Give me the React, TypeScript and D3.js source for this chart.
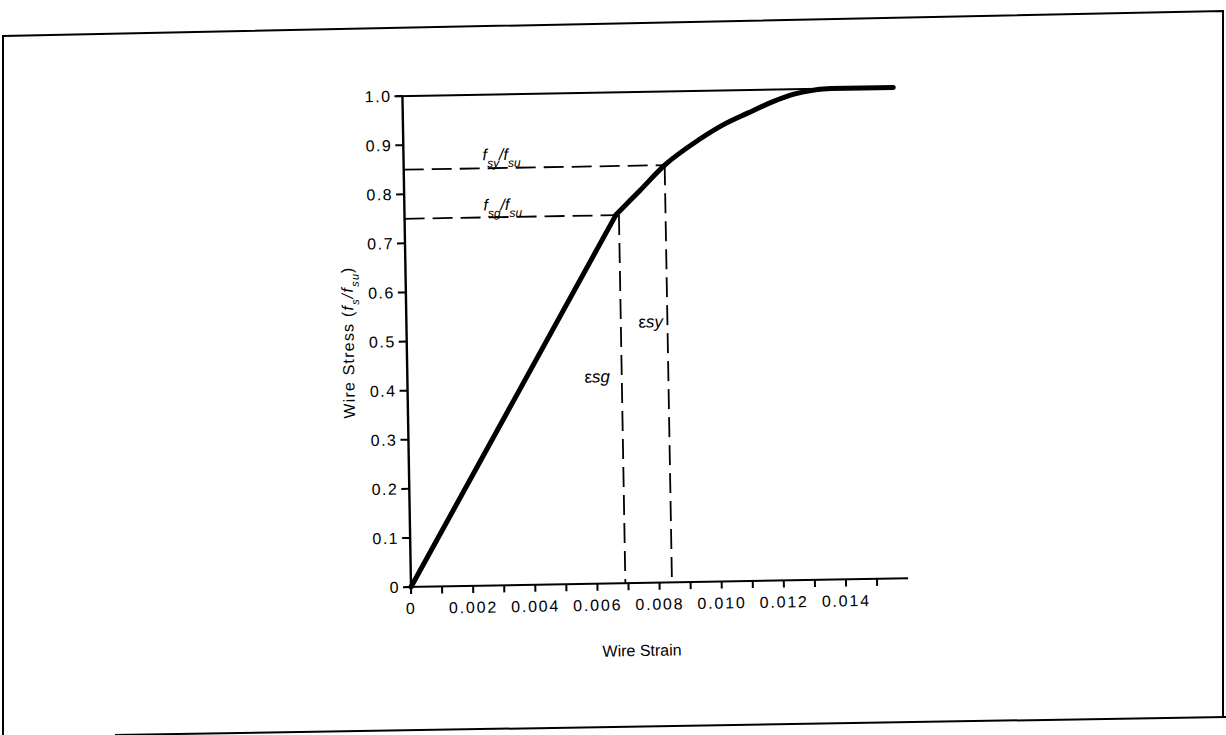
import React from "react";
import * as d3 from "d3";

// elastic (linear) branch
const strainLinear = [0, 0.0068];
const stressLinear = [0, 0.75];
// post-elastic branch
const strainCurve = [0.0068, 0.0076, 0.0084, 0.0095, 0.0103, 0.0111, 0.0119, 0.0126, 0.0132, 0.0138, 0.0158];
const stressCurve = [0.75, 0.8, 0.85, 0.9, 0.93, 0.953, 0.975, 0.99, 0.997, 1.0, 1.0];
const yTicks = [0, 0.1, 0.2, 0.3, 0.4, 0.5, 0.6, 0.7, 0.8, 0.9, 1.0];
const xTickLabels = [0, 0.002, 0.004, 0.006, 0.008, 0.01, 0.012, 0.014];
const xMinorTicks = d3.range(0, 16).map((i) => i * 0.001);
const fsy = { stress: 0.85, strain: 0.0084 };
const fsg = { stress: 0.75, strain: 0.0069 };

const W = 1226;
const H = 735;
const SKEW = -1.0; // the scanned page is slightly rotated

export default function App() {
  const x = d3.scaleLinear().domain([0, 0.014]).range([411, 846]);
  const y = d3.scaleLinear().domain([0, 1]).range([587, 96]);
  const lin = strainLinear.map((s, i) => [s, stressLinear[i]] as [number, number]);
  const cur = strainCurve.map((s, i) => [s, stressCurve[i]] as [number, number]);
  const lineLin = d3
    .line<[number, number]>()
    .x((d) => x(d[0]))
    .y((d) => y(d[1]));
  const lineCur = d3
    .line<[number, number]>()
    .x((d) => x(d[0]))
    .y((d) => y(d[1]))
    .curve(d3.curveMonotoneX);
  const font = "'Liberation Sans', Arial, sans-serif";
  return (
    <svg
      width={W}
      height={H}
      style={{ position: "fixed", top: 0, left: 0, background: "#fff" }}
      fontFamily={font}
    >
      {/* frame */}
      <polyline points="3,740 3,36 1223,11 1223,718" fill="none" stroke="#000" strokeWidth={2} />
      <line x1={115} y1={735} x2={1226} y2={717} stroke="#000" strokeWidth={2} />

      <g transform={`rotate(${SKEW},${x(0)},${y(0)})`}>
        {/* axes */}
        <line x1={x(0)} y1={y(1)} x2={x(0)} y2={y(0)} stroke="#000" strokeWidth={2.4} />
        <line x1={x(0) - 6} y1={y(0)} x2={x(0.016)} y2={y(0)} stroke="#000" strokeWidth={2} />
        <line x1={x(0) - 6} y1={y(1)} x2={x(0.0158)} y2={y(1)} stroke="#000" strokeWidth={2} />

        {yTicks.map((t) => (
          <g key={"y" + t}>
            <line x1={x(0) - 8} x2={x(0)} y1={y(t)} y2={y(t)} stroke="#000" strokeWidth={2} />
            <text x={x(0) - 11} y={y(t)} dy="0.35em" textAnchor="end" fontSize={16} letterSpacing={1.5}>
              {t === 0 ? "0" : d3.format(".1f")(t)}
            </text>
          </g>
        ))}
        {xMinorTicks.map((t) => (
          <line key={"xm" + t} x1={x(t)} x2={x(t)} y1={y(0)} y2={y(0) + 7} stroke="#000" strokeWidth={2} />
        ))}
        {xTickLabels.map((t) => (
          <text key={"xl" + t} x={x(t)} y={y(0) + 27} textAnchor="middle" fontSize={16} letterSpacing={1.8}>
            {t === 0 ? "0" : d3.format(".3f")(t)}
          </text>
        ))}

        {/* dashed guides */}
        <g stroke="#000" strokeWidth={1.8} strokeDasharray="20,8" fill="none">
          <line x1={x(0)} y1={y(fsy.stress)} x2={x(fsy.strain)} y2={y(fsy.stress)} />
          <line x1={x(fsy.strain)} y1={y(fsy.stress)} x2={x(fsy.strain)} y2={y(0)} />
          <line x1={x(0)} y1={y(fsg.stress)} x2={x(fsg.strain)} y2={y(fsg.stress)} />
          <line x1={x(fsg.strain)} y1={y(fsg.stress)} x2={x(fsg.strain)} y2={y(0)} />
        </g>

        {/* curve */}
        <path d={lineLin(lin) || ""} fill="none" stroke="#000" strokeWidth={5} strokeLinecap="round" />
        <path d={lineCur(cur) || ""} fill="none" stroke="#000" strokeWidth={5} strokeLinecap="round" strokeLinejoin="round" />

        {/* annotations */}
        <text x={490} y={y(fsy.stress) - 8} fontSize={16} fontStyle="italic">
          f<tspan baselineShift="sub" fontSize={12}>sy</tspan>/f<tspan baselineShift="sub" fontSize={12}>su</tspan>
        </text>
        <text x={490} y={y(fsg.stress) - 7} fontSize={16} fontStyle="italic">
          f<tspan baselineShift="sub" fontSize={12}>sg</tspan>/f<tspan baselineShift="sub" fontSize={12}>su</tspan>
        </text>
        <text x={643} y={y(0.52)} fontSize={17}>
          ε<tspan fontStyle="italic">sy</tspan>
        </text>
        <text x={588} y={y(0.41)} fontSize={17}>
          ε<tspan fontStyle="italic">sg</tspan>
        </text>

        {/* axis titles */}
        <text x={x(0.0074)} y={y(0) + 73} textAnchor="middle" fontSize={16}>
          Wire Strain
        </text>
        <text
          transform={`translate(358,${y(0.5)}) rotate(-90)`}
          textAnchor="middle"
          fontSize={16}
          letterSpacing={1.2}
        >
          Wire Stress (<tspan fontStyle="italic">f</tspan>
          <tspan fontStyle="italic" baselineShift="sub" fontSize={11}>s</tspan>
          <tspan fontStyle="italic">/f</tspan>
          <tspan fontStyle="italic" baselineShift="sub" fontSize={11}>su</tspan>)
        </text>
      </g>
    </svg>
  );
}
